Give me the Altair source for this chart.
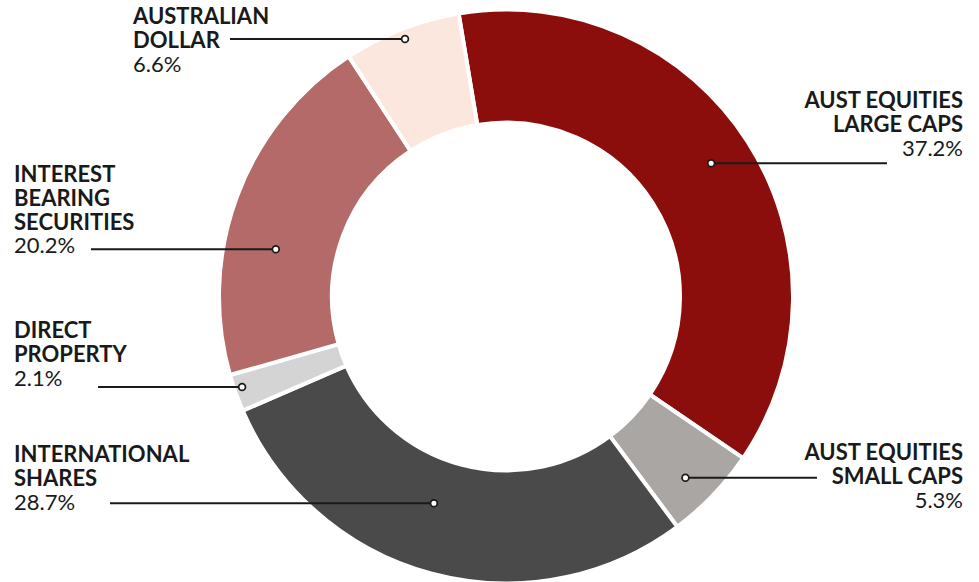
import math
import altair as alt
import pandas as pd

# ---- data ----
names = ["AUST EQUITIES\nLARGE CAPS", "AUST EQUITIES\nSMALL CAPS", "INTERNATIONAL\nSHARES",
         "DIRECT\nPROPERTY", "INTEREST\nBEARING\nSECURITIES", "AUSTRALIAN\nDOLLAR"]
values = [37.2, 5.3, 28.7, 2.1, 20.2, 6.6]
pct_labels = ["37.2%", "5.3%", "28.7%", "2.1%", "20.2%", "6.6%"]
colors = ["#8B0E0C", "#A9A6A4", "#4A4A4A", "#D4D4D4", "#B46A69", "#FCE7DE"]

# ---- layout (pixels) ----
W, H = 979, 582
CX, CY = 506, 296.5
R_OUT, R_IN = 287, 174
START = math.radians(-9.5)
LH = 23.8
FONT = "Lato"

# side, text x, first baseline, leader y, leader outer end x, dot radius
layout = [
    ("right", 963, 108, 163.3, 887, 244.6),
    ("right", 963, 460, 477.7, 817, 255.0),
    ("left", 14, 462, 503.3, 110, 219.0),
    ("left", 14, 338, 387.0, 98, 279.0),
    ("left", 14, 182, 249.3, 91, 235.0),
    ("left", 133, 24, 39.0, 230, 276.6),
]

rows, text_rows = [], []
for i, (n, v, p, lay) in enumerate(zip(names, values, pct_labels, layout)):
    side, tx, ty, ly, lend, rdot = lay
    dx = math.sqrt(max(rdot ** 2 - (ly - CY) ** 2, 0))
    dotx = CX + dx if side == "right" else CX - dx
    rows.append(dict(idx=i, name=n, value=v, ly=ly, lx1=lend, lx2=dotx, dotx=dotx))
    parts = n.split("\n")
    for k, part in enumerate(parts):
        text_rows.append(dict(side=side, tx=tx, ty=ty + k * LH, txt=part, bold=1))
    text_rows.append(dict(side=side, tx=tx, ty=ty + len(parts) * LH, txt=p, bold=0))
df = pd.DataFrame(rows)
tdf = pd.DataFrame(text_rows)

base = alt.Chart(df)

arcs = base.mark_arc(outerRadius=R_OUT, innerRadius=R_IN, stroke="white", strokeWidth=4).encode(
    theta=alt.Theta("value:Q", stack=True, scale=alt.Scale(range=[START, START + 2 * math.pi])),
    color=alt.Color("name:N", scale=alt.Scale(domain=names, range=colors), legend=None),
    order=alt.Order("idx:Q"),
    x=alt.value(CX),
    y=alt.value(CY),
)

rules = base.mark_rule(strokeWidth=2, color="#1a1a1a").encode(
    x=alt.X("lx1:Q", scale=None),
    x2="lx2:Q",
    y=alt.Y("ly:Q", scale=None),
)

dots = base.mark_point(shape="circle", filled=True, fill="white", stroke="#1a1a1a",
                       strokeWidth=1.7, size=46, opacity=1).encode(
    x=alt.X("dotx:Q", scale=None),
    y=alt.Y("ly:Q", scale=None),
)

tbase = alt.Chart(tdf)

def labels(side, bold):
    b = tbase.transform_filter((alt.datum.side == side) & (alt.datum.bold == bold))
    return b.mark_text(font=FONT, fontWeight="bold" if bold else "normal", fontSize=22,
                       baseline="alphabetic", align=side, color="#1a1a1a").encode(
        x=alt.X("tx:Q", scale=None), y=alt.Y("ty:Q", scale=None), text="txt:N")

chart = alt.layer(arcs, rules, dots,
                  labels("left", 1), labels("left", 0),
                  labels("right", 1), labels("right", 0)).properties(
    width=W, height=H, padding=0, autosize=alt.AutoSizeParams(type="none"),
    background="white",
).configure_view(stroke=None)

chart.save("out.html", embed_options={"renderer": "svg", "actions": False})
